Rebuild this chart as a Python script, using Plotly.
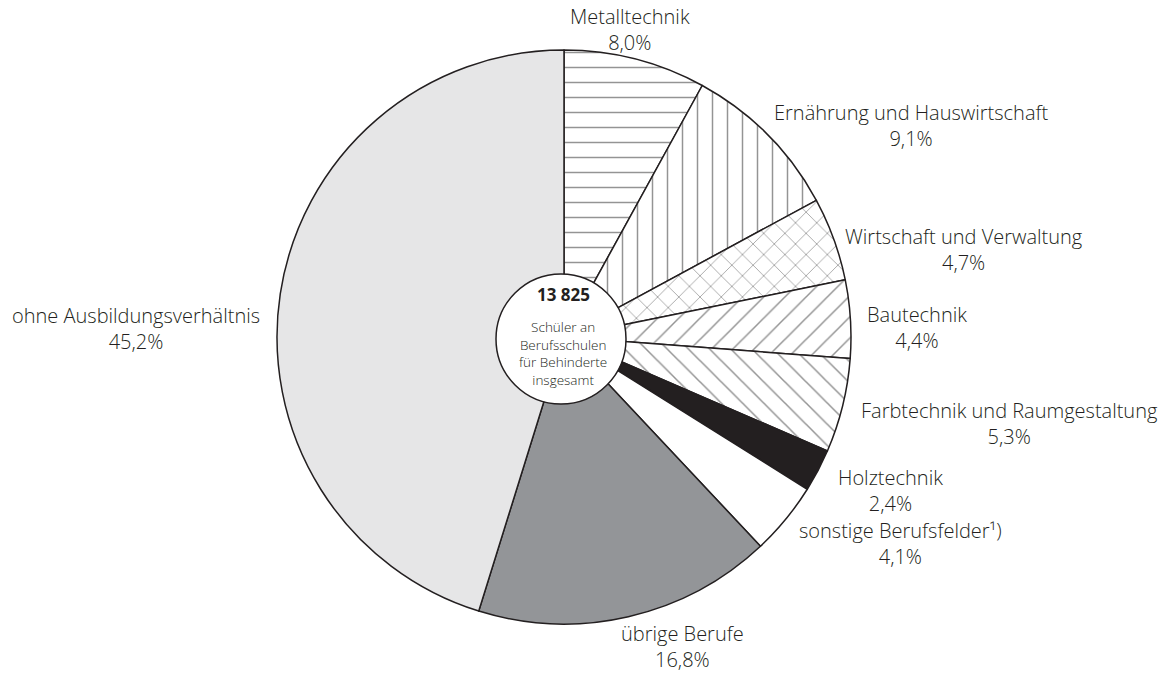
import plotly.graph_objects as go

categories = ["Metalltechnik", "Ernährung und Hauswirtschaft", "Wirtschaft und Verwaltung",
              "Bautechnik", "Farbtechnik und Raumgestaltung", "Holztechnik",
              "sonstige Berufsfelder¹)", "übrige Berufe", "ohne Ausbildungsverhältnis"]
shares = [8.0, 9.1, 4.7, 4.4, 5.3, 2.4, 4.1, 16.8, 45.2]
total_label = "13 825"
centre_lines = ["Schüler an", "Berufsschulen", "für Behinderte", "insgesamt"]

fills = ["white", "white", "white", "white", "white", "#231f20", "white", "#939598", "#e6e6e7"]
patterns = ["-", "|", "x", "/", "\\", "", "", "", ""]

W, H = 1173, 673
cx, cy, R = 564, 337, 287
hcx, hcy, hole_r = 561, 339, 65


def px(x):
    return x / W


def py(y):
    return 1 - y / H


FONT = "Open Sans"
TXT = "#231f20"

fig = go.Figure()
fig.add_trace(go.Pie(
    labels=categories, values=shares, sort=False, direction="clockwise", rotation=0,
    hole=0.2, textinfo="none", hoverinfo="label+percent",
    marker=dict(colors=fills, line=dict(color="#231f20", width=1.5),
                pattern=dict(shape=patterns, fgcolor="#2a2a2a", bgcolor=fills,
                             size=15, solidity=0.1, fillmode="overlay")),
    domain=dict(x=[px(cx - R), px(cx + R)], y=[py(cy + R), py(cy - R)]),
    showlegend=False,
))

# label positions (pixel centres in the page)
label_pos = [(630, 30), (912, 125), (964, 249), (917, 327), (1009, 423),
             (890, 490), (900, 543), (682, 646), (136, 328)]
for name, val, (lx, ly) in zip(categories, shares, label_pos):
    txt = f"{name}<br>{val:.1f}%".replace(".", ",")
    fig.add_annotation(x=px(lx), y=py(ly), xref="paper", yref="paper",
                       text=txt, showarrow=False, xanchor="center", yanchor="middle",
                       font=dict(family=FONT, size=20, color=TXT, weight=300),
                       align="center")

# centre circle
fig.add_shape(type="circle", xref="paper", yref="paper",
              x0=px(hcx - hole_r), x1=px(hcx + hole_r),
              y0=py(hcy + hole_r), y1=py(hcy - hole_r),
              line=dict(color="#231f20", width=1.5), fillcolor="white")
fig.add_annotation(x=px(hcx + 2), y=py(294), xref="paper", yref="paper", text=f"<b>{total_label}</b>",
                   showarrow=False, font=dict(family=FONT, size=17, color=TXT, weight=700))
fig.add_annotation(x=px(hcx + 2), y=py(353), xref="paper", yref="paper",
                   text="<br>".join(centre_lines), showarrow=False, yanchor="middle", align="center",
                   font=dict(family=FONT, size=13.5, color=TXT, weight=300))

fig.update_layout(width=W, height=H, margin=dict(l=0, r=0, t=0, b=0),
                  paper_bgcolor="white", plot_bgcolor="white")
fig.write_html("out.html", config={"displayModeBar": False},
               post_script="document.body.style.margin='0px';")
